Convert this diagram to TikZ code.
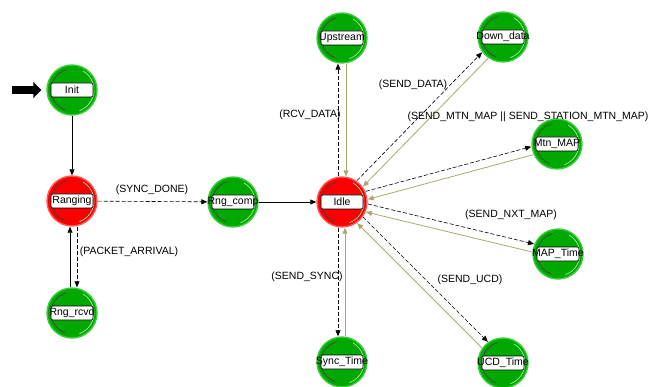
\documentclass[tikz,border=0pt]{standalone}
\usepackage{fontspec}
\setmainfont{Liberation Sans}
\usetikzlibrary{arrows.meta}
\definecolor{stgreen}{RGB}{0,168,0}
\definecolor{stgreenrim}{RGB}{60,205,60}
\definecolor{stred}{RGB}{250,0,0}
\definecolor{stredrim}{RGB}{255,90,90}
\definecolor{retline}{RGB}{172,168,112}
\tikzset{
  state/.style={circle, minimum size=50pt, inner sep=0pt, line width=1.4pt},
  gstate/.style={state, fill=stgreen, draw=stgreenrim},
  rstate/.style={state, fill=stred, draw=stredrim},
  lbox/.style={draw=black, fill=white, rounded corners=2pt, minimum width=42pt, minimum height=14pt, inner sep=0pt, line width=0.6pt},
  ltext/.style={font=\fontsize{10.5}{12}\selectfont, inner sep=0pt},
  tlabel/.style={font=\fontsize{10.5}{12}\selectfont, inner sep=0pt},
  tip/.style={-{Triangle[length=6pt,width=5pt]}},
  cond/.style={draw=black, dash pattern=on 4pt off 2pt, line width=0.6pt, tip},
  uncond/.style={draw=black, line width=0.6pt, tip},
  back/.style={draw=retline, line width=0.8pt, tip},
  shade/.style={line width=0.6pt}
}
\newcommand\mkstate[5]{%
  \node[#5] (#1) at (#2,#3) {};
  \draw[shade, black!75] (#1.center) ++(105:21pt) arc[start angle=105, end angle=250, radius=21pt];
  \draw[shade, white!70!green] (#1.center) ++(-70:22pt) arc[start angle=-70, end angle=60, radius=22pt];
  \node[lbox] at (#1) {};
  \node[ltext] at (#1) {#4};
}
\begin{document}
\begin{tikzpicture}[x=1pt, y=-1pt]
\useasboundingbox (0,0) rectangle (655,387);
\fill[white] (0,0) rectangle (655,387);

% states
\mkstate{Init}{72}{90}{Init}{gstate}
\mkstate{Ranging}{72}{201}{Ranging}{rstate}
\mkstate{Rngrcvd}{72}{313}{Rng\_rcvd}{gstate}
\mkstate{Rngcomp}{233}{202}{Rng\_comp}{gstate}
\mkstate{Idle}{342}{202}{Idle}{rstate}
\mkstate{Upstream}{342}{38}{Upstream}{gstate}
\mkstate{Downdata}{503}{37}{Down\_data}{gstate}
\mkstate{MtnMAP}{557}{144}{Mtn\_MAP}{gstate}
\mkstate{MAPTime}{558}{254}{MAP\_Time}{gstate}
\mkstate{SyncTime}{342}{362}{Sync\_Time}{gstate}
\mkstate{UCDTime}{503}{363}{UCD\_Time}{gstate}

% initial arrow
\coordinate (entry) at (12,90);
\draw[line width=8pt, -{Triangle[length=8pt,width=16pt]}, shorten >=5pt] (entry) -- (Init);

% transitions
\draw[uncond] (Init) -- (Ranging);
\draw[uncond, transform canvas={shift={(-2,0)}}] (Rngrcvd) -- (Ranging);
\draw[cond, transform canvas={shift={(5,0)}}] (Ranging) -- (Rngrcvd);
\draw[cond] (Ranging) -- (Rngcomp);
\draw[uncond] (Rngcomp) -- (Idle);

\draw[cond, transform canvas={shift={(-4,0)}}] (Idle) -- (Upstream);
\draw[back, transform canvas={shift={(4,0)}}] (Upstream) -- (Idle);
\draw[cond, transform canvas={shift={(-4,0)}}] (Idle) -- (SyncTime);
\draw[back, transform canvas={shift={(3,0)}}] (SyncTime) -- (Idle);
\draw[cond, transform canvas={shift={(-3,-3)}}] (Idle) -- (Downdata);
\draw[back, transform canvas={shift={(3,3)}}] (Downdata) -- (Idle);
\draw[cond, transform canvas={shift={(-1,-4)}}] (Idle) -- (MtnMAP);
\draw[back, transform canvas={shift={(1,4)}}] (MtnMAP) -- (Idle);
\draw[cond, transform canvas={shift={(1,-4)}}] (Idle) -- (MAPTime);
\draw[back, transform canvas={shift={(-1,4)}}] (MAPTime) -- (Idle);
\draw[cond, transform canvas={shift={(3,-3)}}] (Idle) -- (UCDTime);
\draw[back, transform canvas={shift={(-3,3)}}] (UCDTime) -- (Idle);

% labels
\node[tlabel] (lsync) at (152,190) {(SYNC\_DONE)};
\node[tlabel] (lpkt) at (129,252) {(PACKET\_ARRIVAL)};
\node[tlabel] (lrcv) at (310,115) {(RCV\_DATA)};
\node[tlabel] (lsdata) at (413,85) {(SEND\_DATA)};
\node[tlabel] (lmtn) at (528,117) {(SEND\_MTN\_MAP || SEND\_STATION\_MTN\_MAP)};
\node[tlabel] (lnxt) at (511,215) {(SEND\_NXT\_MAP)};
\node[tlabel] (lucd) at (470,280) {(SEND\_UCD)};
\node[tlabel] (lssync) at (307,277) {(SEND\_SYNC)};
\end{tikzpicture}
\end{document}
